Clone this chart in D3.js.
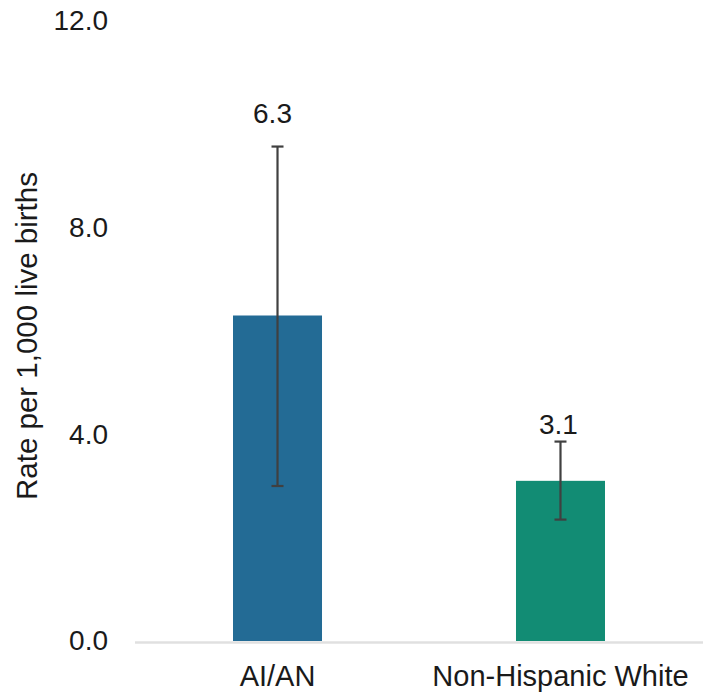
<!DOCTYPE html>
<html>
<head>
<meta charset="utf-8">
<script src="https://cdn.jsdelivr.net/npm/d3@7"></script>
<style>
  html, body { margin: 0; padding: 0; background: #fff; }
  svg { display: block; font-family: "Liberation Sans", Arial, sans-serif; }
</style>
</head>
<body>
<svg id="chart" width="707" height="692"></svg>
<script>
const categories = ["AI/AN", "Non-Hispanic White"];
const rates = [6.3, 3.1];
const lowerCI = [3.0, 2.35];
const upperCI = [9.57, 3.86];
const barColors = ["#236b95", "#128c74"];
const yTicks = [0, 4, 8, 12];
const yTitle = "Rate per 1,000 live births";

const svg = d3.select("#chart");
const y = d3.scaleLinear().domain([0, 12]).range([641, 21]);
const x = d3.scaleBand().domain(categories).range([136, 702])
  .paddingInner(0.6855).paddingOuter(0.3428);

// baseline
svg.append("line")
  .attr("x1", 135).attr("x2", 703)
  .attr("y1", 642.5).attr("y2", 642.5)
  .attr("stroke", "#e0e0e0").attr("stroke-width", 2.5);

// y axis labels
const yAxis = d3.axisLeft(y).tickValues(yTicks).tickSize(0).tickPadding(0)
  .tickFormat(d3.format(".1f"));
const gy = svg.append("g").attr("transform", "translate(108,0)").call(yAxis);
gy.select(".domain").remove();
gy.selectAll("text").attr("font-size", 28).attr("fill", "#1a1a1a")
  .attr("font-family", "Liberation Sans, Arial, sans-serif");

// y title
svg.append("text")
  .attr("transform", "translate(37,336) rotate(-90)")
  .attr("text-anchor", "middle")
  .attr("font-size", 29.5).attr("fill", "#1a1a1a")
  .text(yTitle);

// bars
svg.selectAll("rect.bar").data(categories).enter().append("rect")
  .attr("class", "bar")
  .attr("x", d => x(d))
  .attr("width", x.bandwidth())
  .attr("y", (d, i) => y(rates[i]))
  .attr("height", (d, i) => y(0) - y(rates[i]))
  .attr("fill", (d, i) => barColors[i]);

// error bars
const capW = 12;
const eg = svg.selectAll("g.err").data(categories).enter().append("g").attr("class", "err")
  .attr("stroke", "#404040").attr("stroke-width", 2.2);
eg.append("line")
  .attr("x1", d => x(d) + x.bandwidth() / 2).attr("x2", d => x(d) + x.bandwidth() / 2)
  .attr("y1", (d, i) => y(upperCI[i])).attr("y2", (d, i) => y(lowerCI[i]));
eg.append("line")
  .attr("x1", d => x(d) + x.bandwidth() / 2 - capW / 2).attr("x2", d => x(d) + x.bandwidth() / 2 + capW / 2)
  .attr("y1", (d, i) => y(upperCI[i])).attr("y2", (d, i) => y(upperCI[i]));
eg.append("line")
  .attr("x1", d => x(d) + x.bandwidth() / 2 - capW / 2).attr("x2", d => x(d) + x.bandwidth() / 2 + capW / 2)
  .attr("y1", (d, i) => y(lowerCI[i])).attr("y2", (d, i) => y(lowerCI[i]));

// value labels
const labelGap = [24, 7.5];
svg.selectAll("text.val").data(categories).enter().append("text")
  .attr("class", "val")
  .attr("x", (d, i) => x(d) + x.bandwidth() / 2 - (i === 0 ? 5 : 2))
  .attr("y", (d, i) => y(upperCI[i]) - labelGap[i])
  .attr("text-anchor", "middle")
  .attr("font-size", 28).attr("fill", "#1a1a1a")
  .text((d, i) => d3.format(".1f")(rates[i]));

// category labels
svg.selectAll("text.cat").data(categories).enter().append("text")
  .attr("class", "cat")
  .attr("x", d => x(d) + x.bandwidth() / 2)
  .attr("y", 686)
  .attr("text-anchor", "middle")
  .attr("font-size", 29).attr("fill", "#1a1a1a")
  .text(d => d);
</script>
</body>
</html>
